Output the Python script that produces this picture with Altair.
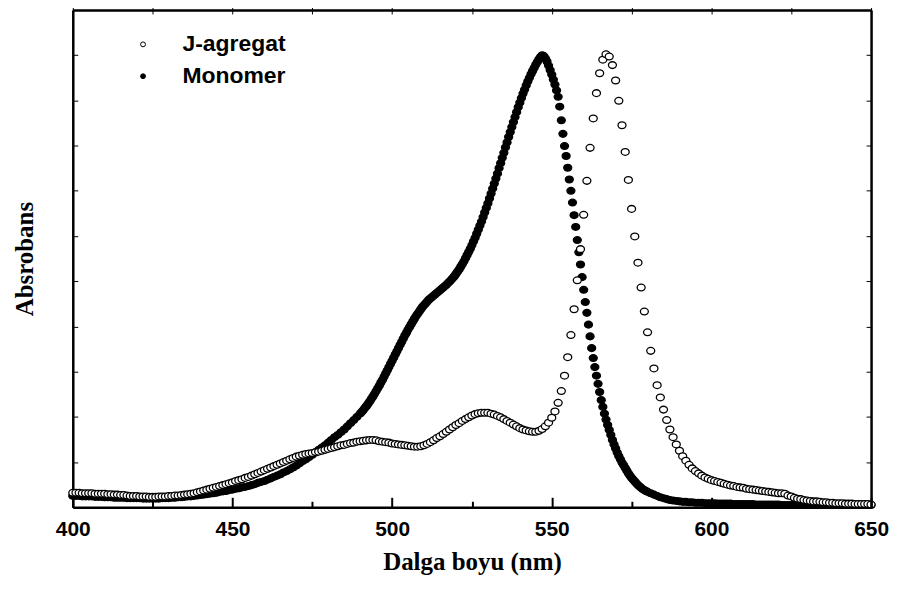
import altair as alt
import pandas as pd

W, H = 801, 499

# ---------------- data ----------------
# J-agregat, 400..650 nm, 1 nm step
j_wl = list(range(400, 651))
j_abs = [
    0.032, 0.032, 0.032, 0.031, 0.031, 0.031, 0.031, 0.030, 0.030, 0.030,
    0.030, 0.029, 0.029, 0.028, 0.028, 0.027, 0.027, 0.026, 0.025, 0.025,
    0.025, 0.024, 0.024, 0.024, 0.023, 0.023, 0.023, 0.024, 0.024, 0.024,
    0.025, 0.025, 0.026, 0.026, 0.027, 0.028, 0.029, 0.030, 0.031, 0.033,
    0.035, 0.037, 0.039, 0.041, 0.043, 0.045, 0.047, 0.049, 0.051, 0.053,
    0.055, 0.058, 0.060, 0.062, 0.065, 0.067, 0.070, 0.073, 0.076, 0.079,
    0.082, 0.085, 0.088, 0.091, 0.094, 0.097, 0.100, 0.103, 0.106, 0.109,
    0.112, 0.114, 0.116, 0.118, 0.119, 0.120, 0.122, 0.123, 0.125, 0.127,
    0.129, 0.131, 0.133, 0.135, 0.137, 0.138, 0.140, 0.142, 0.143, 0.145,
    0.146, 0.147, 0.148, 0.149, 0.149, 0.148, 0.146, 0.145, 0.144, 0.143,
    0.141, 0.140, 0.139, 0.138, 0.137, 0.136, 0.135, 0.134, 0.134, 0.135,
    0.137, 0.140, 0.144, 0.148, 0.153, 0.157, 0.162, 0.167, 0.172, 0.177,
    0.182, 0.186, 0.191, 0.195, 0.199, 0.203, 0.206, 0.208, 0.209, 0.209,
    0.209, 0.207, 0.205, 0.202, 0.199, 0.195, 0.191, 0.187, 0.183, 0.179,
    0.175, 0.172, 0.170, 0.168, 0.167, 0.167, 0.169, 0.173, 0.179, 0.187,
    0.198, 0.212, 0.231, 0.257, 0.291, 0.332, 0.381, 0.438, 0.502, 0.571,
    0.647, 0.722, 0.795, 0.860, 0.916, 0.960, 0.990, 1.002, 0.997, 0.978,
    0.944, 0.899, 0.845, 0.786, 0.724, 0.660, 0.599, 0.541, 0.486, 0.433,
    0.387, 0.346, 0.307, 0.270, 0.243, 0.216, 0.193, 0.172, 0.155, 0.139,
    0.125, 0.113, 0.103, 0.094, 0.086, 0.080, 0.075, 0.070, 0.066, 0.063,
    0.060, 0.058, 0.056, 0.054, 0.052, 0.050, 0.048, 0.047, 0.045, 0.044,
    0.043, 0.041, 0.040, 0.039, 0.038, 0.037, 0.036, 0.035, 0.034, 0.033,
    0.032, 0.031, 0.031, 0.030, 0.026, 0.024, 0.021, 0.019, 0.018, 0.016,
    0.015, 0.014, 0.013, 0.013, 0.012, 0.011, 0.011, 0.010, 0.010, 0.009,
    0.009, 0.009, 0.008, 0.008, 0.008, 0.007, 0.007, 0.007, 0.007, 0.007,
    0.006,
]

# Monomer, 400..489 nm (1 nm step)
mono_wl_a = list(range(400, 490))
mono_abs_a = [
    0.025, 0.025, 0.025, 0.024, 0.024, 0.024, 0.024, 0.023, 0.023, 0.023,
    0.022, 0.022, 0.022, 0.021, 0.021, 0.021, 0.021, 0.020, 0.020, 0.020,
    0.020, 0.020, 0.019, 0.019, 0.019, 0.019, 0.019, 0.019, 0.020, 0.020,
    0.020, 0.021, 0.021, 0.022, 0.022, 0.023, 0.024, 0.024, 0.025, 0.026,
    0.027, 0.028, 0.029, 0.030, 0.031, 0.032, 0.034, 0.035, 0.036, 0.038,
    0.039, 0.041, 0.042, 0.044, 0.045, 0.047, 0.049, 0.051, 0.054, 0.056,
    0.058, 0.061, 0.064, 0.067, 0.070, 0.073, 0.077, 0.080, 0.084, 0.088,
    0.092, 0.097, 0.102, 0.106, 0.111, 0.116, 0.121, 0.127, 0.132, 0.137,
    0.143, 0.149, 0.155, 0.160, 0.166, 0.172, 0.179, 0.186, 0.193, 0.200,
]
# Monomer, 490..580 nm (0.5 nm step)
mono_wl_b = [490 + 0.5 * i for i in range(181)]
mono_abs_b = [
    0.207, 0.211, 0.215, 0.220, 0.224, 0.229, 0.234, 0.240, 0.245, 0.251,
    0.257, 0.263, 0.269, 0.276, 0.282, 0.289, 0.296, 0.303, 0.310, 0.317,
    0.324, 0.331, 0.338, 0.345, 0.352, 0.359, 0.366, 0.373, 0.380, 0.386,
    0.393, 0.399, 0.405, 0.411, 0.417, 0.423, 0.428, 0.433, 0.438, 0.443,
    0.447, 0.451, 0.455, 0.459, 0.462, 0.465, 0.468, 0.471, 0.474, 0.477,
    0.480, 0.483, 0.486, 0.489, 0.492, 0.496, 0.499, 0.503, 0.507, 0.511,
    0.516, 0.521, 0.526, 0.532, 0.538, 0.544, 0.551, 0.558, 0.565, 0.572,
    0.580, 0.588, 0.596, 0.605, 0.614, 0.623, 0.632, 0.642, 0.652, 0.662,
    0.672, 0.683, 0.694, 0.705, 0.716, 0.727, 0.738, 0.750, 0.761, 0.773,
    0.784, 0.796, 0.807, 0.819, 0.830, 0.841, 0.852, 0.863, 0.874, 0.885,
    0.895, 0.905, 0.915, 0.924, 0.933, 0.942, 0.950, 0.958, 0.965, 0.972,
    0.979, 0.985, 0.991, 0.996, 1.000, 0.998, 0.993, 0.986, 0.977, 0.967,
    0.957, 0.946, 0.935, 0.922, 0.908, 0.886, 0.856, 0.826, 0.799, 0.777,
    0.751, 0.725, 0.700, 0.674, 0.646, 0.620, 0.591, 0.564, 0.537, 0.509,
    0.481, 0.454, 0.430, 0.404, 0.378, 0.352, 0.330, 0.310, 0.291, 0.273,
    0.255, 0.237, 0.222, 0.207, 0.194, 0.182, 0.171, 0.160, 0.149, 0.139,
    0.130, 0.121, 0.113, 0.106, 0.099, 0.093, 0.087, 0.081, 0.075, 0.070,
    0.065, 0.061, 0.057, 0.053, 0.049, 0.046, 0.043, 0.040, 0.038, 0.036,
    0.034,
]
# Monomer, 581..650 nm (1 nm step)
mono_wl_c = list(range(581, 651))
mono_abs_c = [
    0.031, 0.028, 0.025, 0.022, 0.020, 0.018, 0.016, 0.015, 0.014, 0.013,
    0.012, 0.012, 0.011, 0.011, 0.010, 0.010, 0.010, 0.009, 0.009, 0.009,
    0.009, 0.008, 0.008, 0.008, 0.008, 0.008, 0.007, 0.007, 0.007, 0.007,
    0.007, 0.007, 0.007, 0.006, 0.006, 0.006, 0.006, 0.006, 0.006, 0.006,
    0.006, 0.005, 0.005, 0.005, 0.005, 0.005, 0.005, 0.005, 0.005, 0.005,
    0.005, 0.005, 0.005, 0.005, 0.005, 0.005, 0.005, 0.005, 0.005, 0.005,
    0.005, 0.005, 0.005, 0.005, 0.005, 0.005, 0.005, 0.005, 0.005, 0.005,
]

series_names = ["J-agregat", "Monomer"]
x_major = [400, 450, 500, 550, 600, 650]
x_minor = [425, 475, 525, 575, 625]
x_top = [400, 425, 450, 475, 500, 525, 550, 575, 600, 625, 650]
y_ticks = [round(i * 0.1, 1) for i in range(12)]

assert len(j_wl) == len(j_abs), (len(j_wl), len(j_abs))
assert len(mono_wl_a) == len(mono_abs_a), (len(mono_wl_a), len(mono_abs_a))
assert len(mono_wl_b) == len(mono_abs_b), (len(mono_wl_b), len(mono_abs_b))
assert len(mono_wl_c) == len(mono_abs_c), (len(mono_wl_c), len(mono_abs_c))

m_df = pd.DataFrame({
    "wl": mono_wl_a + mono_wl_b + mono_wl_c,
    "abs": mono_abs_a + mono_abs_b + mono_abs_c,
    "series": "Monomer",
})
j_df = pd.DataFrame({"wl": j_wl, "abs": j_abs, "series": "J-agregat"})
df = pd.concat([m_df, j_df], ignore_index=True)
df["ord"] = range(len(df))

dummy = pd.DataFrame({"wl": [400], "abs": [0.0]})

xscale = alt.Scale(domain=[400, 650], nice=False, zero=False)
yscale = alt.Scale(domain=[0, 1.1], nice=False, zero=False)

ELLIPSE = "M-1,0A1,0.85 0 1,0 1,0A1,0.85 0 1,0 -1,0Z"
SANS = "Liberation Sans"
SERIF = "Liberation Serif"

points = alt.Chart(df).mark_point(
    shape=ELLIPSE, filled=True, size=64, stroke="black", strokeWidth=1.3, opacity=1
).encode(
    x=alt.X("wl:Q", scale=xscale, axis=alt.Axis(
        orient="bottom", values=x_major, ticks=False, tickSize=0,
        domain=True, domainColor="black", domainWidth=2.5, grid=False,
        labelFont=SANS, labelFontWeight="bold", labelFontSize=21, labelColor="black",
        labelPadding=11, labelFlush=False, labelOverlap=False,
        title="Dalga boyu (nm)", titleFont=SERIF, titleFontSize=25, titleFontWeight="bold",
        titleColor="black", titleX=W / 2, titleY=62, titleBaseline="alphabetic",
        titleAlign="center")),
    y=alt.Y("abs:Q", scale=yscale, axis=alt.Axis(
        orient="left", labels=False, ticks=False, tickSize=0,
        domain=True, domainColor="black", domainWidth=2.5, grid=False,
        title="Absrobans", titleFont=SERIF, titleFontSize=25, titleFontWeight="bold",
        titleColor="black", titleAngle=270, titleX=-48, titleY=H / 2,
        titleAlign="center", titleBaseline="middle")),
    fill=alt.Fill("series:N", scale=alt.Scale(domain=series_names, range=["white", "black"]),
                  legend=alt.Legend(
                      title=None, orient="none", legendX=59, legendY=23,
                      symbolType="circle", symbolSize=24, symbolStrokeColor="black",
                      symbolStrokeWidth=1, labelFont=SANS, labelFontWeight="bold",
                      labelFontSize=23, labelColor="black", labelOffset=28,
                      rowPadding=8, padding=0)),
    order=alt.Order("ord:Q"),
)


def tick_layer(channel, orient, values, size, width, offset, domain=False):
    base = alt.Chart(dummy).mark_point(opacity=0)
    ax = alt.Axis(orient=orient, values=values, tickSize=size, tickWidth=width,
                  tickColor="black", ticks=True, labels=False,
                  domain=domain, domainColor="black", domainWidth=2.5, grid=False,
                  title=None, offset=offset, zindex=2)
    if channel == "x":
        return base.encode(x=alt.X("wl:Q", scale=xscale, axis=ax),
                           y=alt.Y("abs:Q", scale=yscale, axis=None))
    return base.encode(x=alt.X("wl:Q", scale=xscale, axis=None),
                       y=alt.Y("abs:Q", scale=yscale, axis=ax))


layers = [
    points,
    tick_layer("x", "top", x_major, 10, 2, -H),              # bottom major ticks, inward
    tick_layer("x", "top", x_minor, 6, 2, -H),               # bottom minor ticks, inward
    tick_layer("x", "top", x_top, 4, 1, 0, domain=True),     # top frame line
    tick_layer("x", "bottom", x_top, 4, 1, -H),              # top ticks, inward
    tick_layer("y", "right", y_ticks, 5, 1, -W),             # left ticks, inward
    tick_layer("y", "right", y_ticks, 0, 1, 0, domain=True), # right frame line
    tick_layer("y", "left", y_ticks, 5, 1, -W),              # right ticks, inward
]

chart = alt.layer(*layers).resolve_axis(x="independent", y="independent").properties(
    width=W, height=H,
    autosize=alt.AutoSizeParams(type="none"),
    padding={"left": 65, "top": 1, "right": 20, "bottom": 72},
).configure_view(strokeWidth=0).configure(background="white")

chart.save("out.html", embed_options={"renderer": "svg", "actions": False})
